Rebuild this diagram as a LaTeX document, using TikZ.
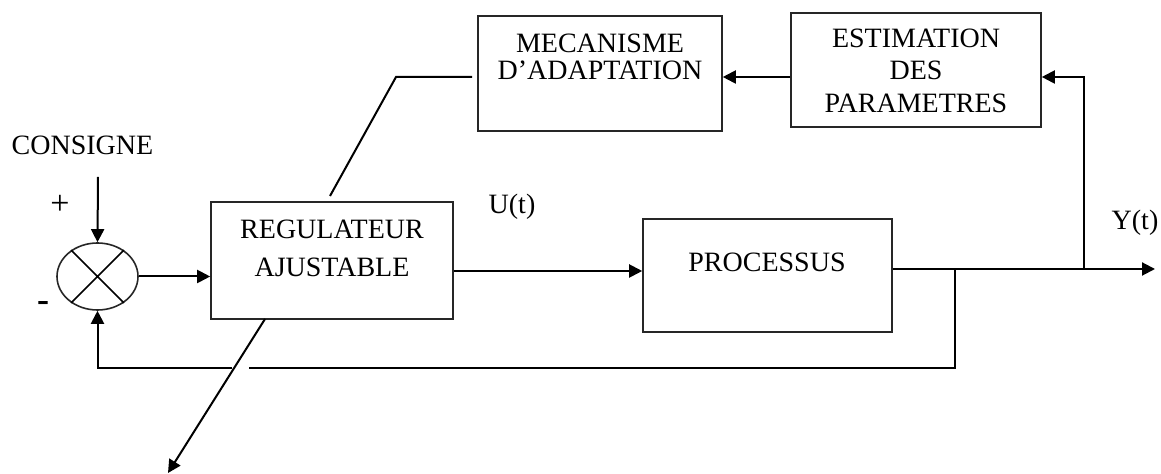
\documentclass[tikz,border=0pt]{standalone}
\usepackage{fontspec}
\setmainfont{Liberation Serif}
\usetikzlibrary{arrows.meta,shapes.geometric,calc}
\begin{document}
\begin{tikzpicture}[x=0.5pt,y=-0.5pt,
  font=\fontsize{14pt}{16pt}\selectfont,
  blk/.style={draw=black!85,line width=0.8pt,rectangle,inner sep=0pt},
  txt/.style={inner sep=0pt,align=center},
  wire/.style={line width=1pt},
  arr/.style={wire,-{Triangle[length=6.5pt,width=6.5pt]}}]
\useasboundingbox (0,0) rectangle (1161,474);
% blocks
\node[blk,minimum width=122pt,minimum height=57.5pt] (mec) at (600,73.5) {};
\node[blk,minimum width=125pt,minimum height=57pt] (est) at (916,70) {};
\node[blk,minimum width=121pt,minimum height=58.5pt] (reg) at (332,260.5) {};
\node[blk,minimum width=124.5pt,minimum height=56.5pt] (proc) at (767.5,275.5) {};
\node[draw=black!85,line width=0.8pt,ellipse,inner sep=0pt,minimum width=40.5pt,minimum height=33.5pt] (sum) at (97.5,276.5) {};
\draw[line width=0.8pt] (sum.45) -- (sum.225) (sum.135) -- (sum.-45);
% texts
\node[txt] (mect) at (600,57) {MECANISME\\[-2.5pt]D’ADAPTATION};
\node[txt] (estt) at (916,70.5) {ESTIMATION\\[0.3pt]DES\\[0.3pt]PARAMETRES};
\node[txt] (regt) at (332,248) {REGULATEUR\\[3pt]AJUSTABLE};
\node[txt] (proct) at (767,262) {PROCESSUS};
\node[txt] (ut) at (512,207) {U(t)};
\node[txt] (yt) at (1135,223) {Y(t)};
\node[txt] (cons) at (82.5,145) {CONSIGNE};
\node[txt,font=\fontsize{17pt}{17pt}\selectfont] (plus) at (60,205) {+};
\node[txt,font=\fontsize{18pt}{18pt}\selectfont\bfseries] (minus) at (43,307) {-};
% helper coordinates
\coordinate (c0) at (98,177);
\coordinate (uy) at (0,271);
\coordinate (oy) at (0,269);
\coordinate (yend) at (1155,269);
\coordinate (br) at (1084,269);
\coordinate (ey) at (0,77);
\coordinate (fb1) at (955,269);
\coordinate (fb2) at (955,368);
\coordinate (fb3) at (249,368);
\coordinate (fb4) at (232,368);
\coordinate (m1) at (472,77);
\coordinate (m2) at (396,77);
\coordinate (m3) at (330,196);
\coordinate (d0) at (265,319);
\coordinate (d1) at (168,473);
% connectors
\draw[arr] (c0) -- (sum.north);
\draw[arr] (sum.east) -- (sum.east -| reg.west);
\draw[arr] (reg.east |- uy) -- (proc.west |- uy);
\draw[arr] (proc.east |- oy) -- (yend);
\draw[arr] (br) -- (br |- ey) -- (est.east |- ey);
\draw[arr] (est.west |- ey) -- (mec.east |- ey);
\draw[wire] (fb1) -- (fb2) -- (fb3);
\draw[arr] (fb4) -- (sum.south |- fb4) -- (sum.south);
\draw[wire] (m1) -- (m2) -- (m3);
\draw[arr] (d0) -- (d1);
\end{tikzpicture}
\end{document}
